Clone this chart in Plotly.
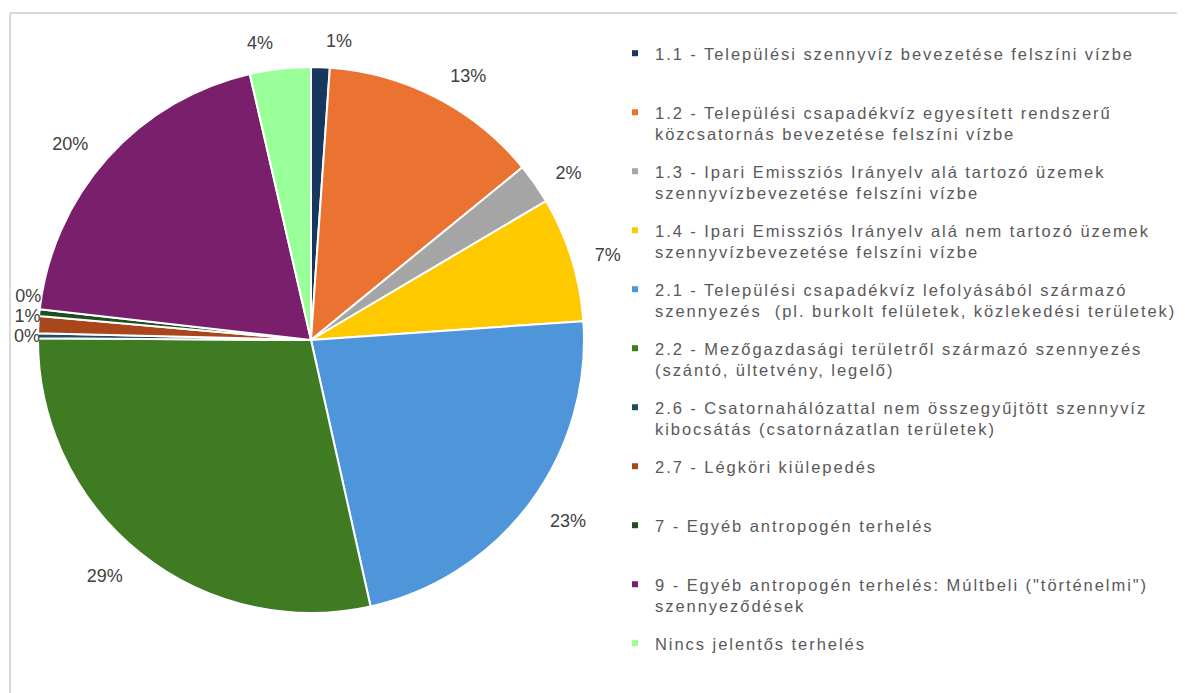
import plotly.graph_objects as go

# ---- data ----
codes = ["1.1", "1.2", "1.3", "1.4", "2.1", "2.2", "2.6", "2.7", "7", "9", "Nincs"]
values = [1.1, 13.0, 2.4, 7.4, 22.6, 28.6, 0.3, 1.0, 0.4, 19.6, 3.6]
legend_lines = [
    ["1.1 - Települési szennyvíz bevezetése felszíni vízbe"],
    ["1.2 - Települési csapadékvíz egyesített rendszerű", "közcsatornás bevezetése felszíni vízbe"],
    ["1.3 - Ipari Emissziós Irányelv alá tartozó üzemek", "szennyvízbevezetése felszíni vízbe"],
    ["1.4 - Ipari Emissziós Irányelv alá nem tartozó üzemek", "szennyvízbevezetése felszíni vízbe"],
    ["2.1 - Települési csapadékvíz lefolyásából származó", "szennyezés  (pl. burkolt felületek, közlekedési területek)"],
    ["2.2 - Mezőgazdasági területről származó szennyezés", "(szántó, ültetvény, legelő)"],
    ["2.6 - Csatornahálózattal nem összegyűjtött szennyvíz", "kibocsátás (csatornázatlan területek)"],
    ["2.7 - Légköri kiülepedés"],
    ["7 - Egyéb antropogén terhelés"],
    ["9 - Egyéb antropogén terhelés: Múltbeli (\"történelmi\")", "szennyeződések"],
    ["Nincs jelentős terhelés"],
]
colors = ["#17375E", "#EB7332", "#A5A5A5", "#FFC900", "#4F95DA", "#3E7B22",
          "#1F4E63", "#A9461B", "#1E4D1E", "#7A1F6B", "#99FF99"]
# labels of the tiny slices sit right at the pie edge, the others further out
near_label_codes = ["2.6", "2.7", "7"]

FONT = "Arial, Liberation Sans, sans-serif"
LEG_SIZE = 16.5
LS = "letter-spacing:1.95px"
LABEL = "<span style='font-size:18px'>%{percent:.0%}</span>"

W, H = 1185, 693
CX, CY, R = 303, 332, 273      # pie centre / radius in figure pixels
R_FAR, R_NEAR = 292, 266        # radii at which the labels are placed
LAB_DY = 3                      # outer label ring shifted slightly down

def dom(r, dy=0):
    cy = CY + dy
    return dict(x=[(CX - r) / W, (CX + r) / W], y=[(H - cy - r) / H, (H - cy + r) / H])

near_tmpl = [LABEL if c in near_label_codes else "" for c in codes]
far_tmpl = ["" if c in near_label_codes else LABEL for c in codes]
clear = ["rgba(0,0,0,0)"] * len(codes)

fig = go.Figure()
fig.add_trace(go.Pie(
    labels=codes, values=values, sort=False, direction="clockwise", rotation=0,
    marker=dict(colors=colors, line=dict(color="white", width=2)),
    textinfo="none", domain=dom(R), showlegend=False, hoverinfo="label+percent",
))
for tmpl, rad, dy in [(far_tmpl, R_FAR, LAB_DY), (near_tmpl, R_NEAR, 0)]:
    fig.add_trace(go.Pie(
        labels=codes, values=values, sort=False, direction="clockwise", rotation=0,
        marker=dict(colors=clear, line=dict(width=0)),
        textposition="outside", texttemplate=tmpl,
        outsidetextfont=dict(family=FONT, size=1, color="#404040"),
        domain=dom(rad, dy), showlegend=False, hoverinfo="skip",
    ))

for lines, col in zip(legend_lines, colors):
    padded = lines + [" "] * (2 - len(lines))
    name = "<br>".join(f"<span style='{LS}'>{ln}</span>" for ln in padded)
    fig.add_trace(go.Scatter(
        x=[None], y=[None], mode="markers", name=name,
        marker=dict(symbol="square", size=6, color=col),
        legendgroup=name, showlegend=True,
    ))

item_h = 2 * LEG_SIZE * 1.3 + 3
fig.update_layout(
    width=W, height=H,
    margin=dict(l=0, r=0, t=0, b=0, autoexpand=False),
    paper_bgcolor="white", plot_bgcolor="white",
    xaxis=dict(visible=False), yaxis=dict(visible=False),
    legend=dict(
        x=607 / W, y=1 - 28 / H, xanchor="left", yanchor="top",
        font=dict(family=FONT, size=LEG_SIZE, color="#595959"),
        tracegroupgap=59 - item_h, valign="top", itemwidth=30,
        bgcolor="rgba(0,0,0,0)",
    ),
    shapes=[
        dict(type="line", xref="paper", yref="paper", x0=2 / W, x1=1.0,
             y0=1 - 5 / H, y1=1 - 5 / H, line=dict(color="#D9D9D9", width=2)),
        dict(type="line", xref="paper", yref="paper", x0=2 / W, x1=2 / W,
             y0=0, y1=1 - 5 / H, line=dict(color="#D9D9D9", width=2)),
    ],
)

fig.write_html("out.html")
